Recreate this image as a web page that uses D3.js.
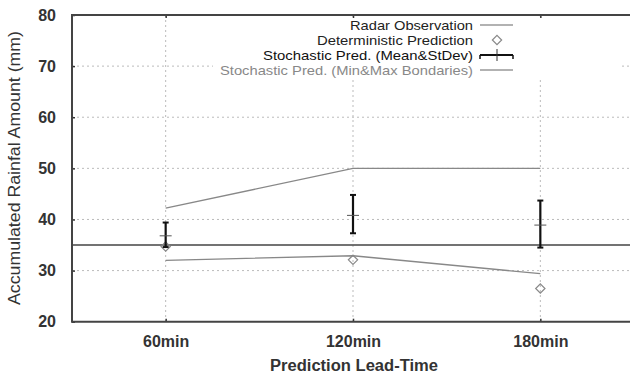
<!DOCTYPE html>
<html><head><meta charset="utf-8">
<script src="https://cdn.jsdelivr.net/npm/d3@7"></script>
<style>body{margin:0;background:#fff}svg{display:block}text{font-family:"Liberation Sans",Arial,sans-serif}</style>
</head><body><svg id="c" width="630" height="376"></svg>
<script>
const leadTimes = [60, 120, 180];
const tickLabels = ["60min", "120min", "180min"];
const yTicks = [20, 30, 40, 50, 60, 70, 80];
const radarObs = 35;
const deterministic = [34.7, 32.1, 26.5];
const stochMean = [36.8, 40.8, 38.9];
const stochLow = [34.6, 37.3, 34.5];
const stochHigh = [39.4, 44.8, 43.7];
const minBound = [32.0, 32.9, 29.4];
const maxBound = [42.2, 50.0, 50.0];
const legendLabels = ["Radar Observation", "Deterministic Prediction", "Stochastic Pred. (Mean&StDev)", "Stochastic Pred. (Min&Max Bondaries)"];

const svg = d3.select("#c");
const L = 72, R = 634, T = 15, B = 321.7;
const x = d3.scaleLinear().domain([30, 210]).range([L, R]);
const y = d3.scaleLinear().domain([20, 80]).range([B, T]);

// grid
const g = svg.append("g");
g.selectAll(".gy").data(yTicks.filter(v => v > 20 && v < 80)).join("line")
  .attr("x1", L).attr("x2", R).attr("y1", d => y(d)).attr("y2", d => y(d))
  .attr("stroke", "#bbb").attr("stroke-dasharray", "2,3");
g.selectAll(".gx").data(leadTimes).join("line")
  .attr("y1", T).attr("y2", B).attr("x1", d => x(d)).attr("x2", d => x(d))
  .attr("stroke", "#bbb").attr("stroke-dasharray", "2,3");

// legend background
svg.append("rect").attr("x", 213).attr("y", T + 2).attr("width", 409).attr("height", 62).attr("fill", "#fff");

// axes
const yAxis = d3.axisLeft(y).tickValues(yTicks).tickSize(-3).tickPadding(18).tickFormat(d3.format("d"));
const ya = svg.append("g").attr("transform", `translate(${L},0)`).call(yAxis);
ya.select(".domain").remove();
ya.selectAll("line").attr("stroke", "#333").attr("stroke-width", 1.5);
ya.selectAll("text").attr("font-size", 16).attr("fill", "#333").attr("font-weight", "bold").attr("dx", 2);

const xAxis = d3.axisBottom(x).tickValues(leadTimes).tickSize(-3).tickPadding(14).tickFormat((d, i) => tickLabels[i]);
const xa = svg.append("g").attr("transform", `translate(0,${B})`).call(xAxis);
xa.select(".domain").remove();
xa.selectAll("line").attr("stroke", "#333").attr("stroke-width", 1.5);
xa.selectAll("text").attr("font-size", 16).attr("fill", "#333").attr("font-weight", "bold");
const xt = svg.append("g").attr("transform", `translate(0,${T})`).call(d3.axisTop(x).tickValues(leadTimes).tickSize(-3).tickFormat(""));
xt.select(".domain").remove();
xt.selectAll("line").attr("stroke", "#333").attr("stroke-width", 1.5);

// border
svg.append("path").attr("d", `M${R},${T}H${L}V${B}H${R}`).attr("fill", "none").attr("stroke", "#444").attr("stroke-width", 2);

// radar obs
svg.append("line").attr("x1", L).attr("x2", R).attr("y1", y(radarObs)).attr("y2", y(radarObs))
  .attr("stroke", "#444").attr("stroke-width", 1.5);

// min/max bounds
const line = d3.line().x((d, i) => x(leadTimes[i])).y(d => y(d));
[minBound, maxBound].forEach(arr => svg.append("path").attr("d", line(arr)).attr("fill", "none").attr("stroke", "#888").attr("stroke-width", 1.3));

// deterministic diamonds
const diamond = d3.symbol().type(d3.symbolDiamond2).size(55);
svg.selectAll(".dm").data(deterministic).join("path")
  .attr("transform", (d, i) => `translate(${x(leadTimes[i])},${y(d)})`)
  .attr("d", diamond).attr("fill", "none").attr("stroke", "#888").attr("stroke-width", 1.2);

// error bars
const eb = svg.selectAll(".eb").data(leadTimes).join("g");
eb.append("line").attr("x1", d => x(d)).attr("x2", d => x(d)).attr("y1", (d, i) => y(stochLow[i])).attr("y2", (d, i) => y(stochHigh[i]))
  .attr("stroke", "#111").attr("stroke-width", 2.2);
eb.append("line").attr("x1", d => x(d) - 3).attr("x2", d => x(d) + 3).attr("y1", (d, i) => y(stochLow[i])).attr("y2", (d, i) => y(stochLow[i]))
  .attr("stroke", "#111").attr("stroke-width", 2);
eb.append("line").attr("x1", d => x(d) - 3).attr("x2", d => x(d) + 3).attr("y1", (d, i) => y(stochHigh[i])).attr("y2", (d, i) => y(stochHigh[i]))
  .attr("stroke", "#111").attr("stroke-width", 2);
eb.append("line").attr("x1", d => x(d) - 6).attr("x2", d => x(d) + 6).attr("y1", (d, i) => y(stochMean[i])).attr("y2", (d, i) => y(stochMean[i]))
  .attr("stroke", "#555").attr("stroke-width", 1);

// legend
const lg = svg.append("g");
const rowsY = [25, 40, 55, 70];
const textColors = ["#222", "#222", "#111", "#888"];
lg.selectAll("text").data(legendLabels).join("text")
  .attr("x", 473).attr("y", (d, i) => rowsY[i] + 5).attr("text-anchor", "end")
  .attr("font-size", 13.5).attr("fill", (d, i) => textColors[i]).text(d => d)
  .attr("textLength", (d, i) => [123, 156, 210, 253][i]).attr("lengthAdjust", "spacingAndGlyphs");
lg.append("line").attr("x1", 480).attr("x2", 513).attr("y1", rowsY[0]).attr("y2", rowsY[0]).attr("stroke", "#999").attr("stroke-width", 1.5);
lg.append("path").attr("transform", `translate(497,${rowsY[1]})`).attr("d", diamond).attr("fill", "none").attr("stroke", "#888").attr("stroke-width", 1.2);
lg.append("line").attr("x1", 480).attr("x2", 513).attr("y1", rowsY[2]).attr("y2", rowsY[2]).attr("stroke", "#111").attr("stroke-width", 2);
lg.append("line").attr("x1", 497).attr("x2", 497).attr("y1", rowsY[2] - 6).attr("y2", rowsY[2] + 6).attr("stroke", "#333").attr("stroke-width", 1);
[480, 513].forEach(xx => lg.append("line").attr("x1", xx).attr("x2", xx).attr("y1", rowsY[2]).attr("y2", rowsY[2] + 4).attr("stroke", "#111").attr("stroke-width", 1.5));
lg.append("line").attr("x1", 480).attr("x2", 513).attr("y1", rowsY[3]).attr("y2", rowsY[3]).attr("stroke", "#999").attr("stroke-width", 1.5);

// axis titles
svg.append("text").attr("x", 354).attr("y", 371).attr("text-anchor", "middle").attr("font-size", 16)
  .attr("font-weight", "bold").attr("fill", "#333").attr("textLength", 168).attr("lengthAdjust", "spacingAndGlyphs")
  .text("Prediction Lead-Time");
svg.append("text").attr("transform", "translate(20,168) rotate(-90)").attr("text-anchor", "middle").attr("font-size", 16)
  .attr("fill", "#333").attr("textLength", 274).attr("lengthAdjust", "spacingAndGlyphs")
  .text("Accumulated Rainfal Amount (mm)");
</script></body></html>
